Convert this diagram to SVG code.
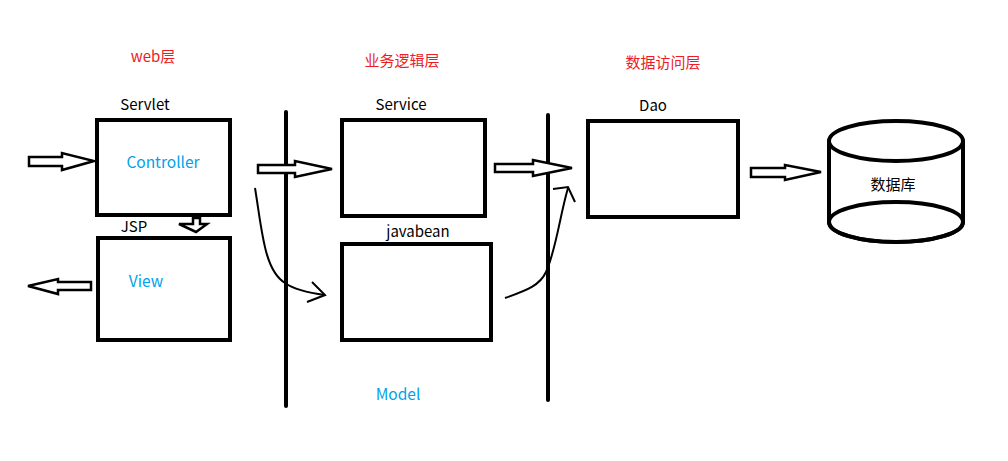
<svg xmlns="http://www.w3.org/2000/svg" width="1008" height="461" viewBox="0 0 1008 461">
<style>
.box{fill:none;stroke:#000;stroke-width:4}
.hollow{fill:#fff;stroke:#000;stroke-width:2.5;stroke-linejoin:miter}
.line{fill:none;stroke:#000;stroke-width:2}
.sep{stroke:#000;stroke-width:4;stroke-linecap:round}
text{font-family:"Microsoft YaHei","Noto Sans CJK SC","Noto Sans",sans-serif;font-size:15px}
.red{fill:#ed1c24;font-size:15px}
.blue{fill:#00a2e8;font-size:15.5px}
.blk{fill:#000}
</style>
<rect width="1008" height="461" fill="#fff"/>
<g id="labels">
<text class="red" x="153" y="62" text-anchor="middle">web层</text>
<text class="red" x="402" y="66" text-anchor="middle">业务逻辑层</text>
<text class="red" x="663" y="68" text-anchor="middle">数据访问层</text>
<text class="blue" x="398" y="400" text-anchor="middle">Model</text>
</g>
<g id="controller">
<rect class="box" x="97" y="120" width="133" height="95"/>
<text class="blk" x="145" y="110" text-anchor="middle">Servlet</text>
<text class="blue" x="163" y="168" text-anchor="middle">Controller</text>
</g>
<g id="view">
<rect class="box" x="98" y="238" width="132" height="102"/>
<text class="blk" x="134" y="232" text-anchor="middle">JSP</text>
<text class="blue" x="146" y="287" text-anchor="middle">View</text>
</g>
<g id="service">
<rect class="box" x="342" y="120" width="143" height="96"/>
<text class="blk" x="401" y="110" text-anchor="middle">Service</text>
</g>
<g id="javabean">
<rect class="box" x="342" y="244" width="149" height="96"/>
<text class="blk" x="418" y="237" text-anchor="middle">javabean</text>
</g>
<g id="dao">
<rect class="box" x="588" y="121" width="150" height="96"/>
<text class="blk" x="653" y="111" text-anchor="middle">Dao</text>
</g>
<g id="database">
<path d="M829,141 V222 A67,20 0 0 0 963,222 V141" fill="#fff" stroke="#000" stroke-width="4"/>
<ellipse cx="896" cy="222" rx="67" ry="20" fill="none" stroke="#000" stroke-width="4"/>
<ellipse cx="896" cy="141" rx="67" ry="20" fill="#fff" stroke="#000" stroke-width="4"/>
<text class="blk" x="893" y="190" text-anchor="middle">数据库</text>
</g>
<g id="connectors">
<line class="sep" x1="286" y1="112" x2="286" y2="406"/>
<line class="sep" x1="548" y1="115" x2="548" y2="400"/>
<polygon class="hollow" points="29,157 62,157 62,153 94,161 62,170 62,166 29,166"/>
<polygon class="hollow" points="91,282 58,282 58,279 28,286 58,294 58,290 91,290"/>
<polygon class="hollow" points="193,218 200,218 200,224 207,224 196,232 179,224 193,224"/>
<polygon class="hollow" points="258,165 295,165 295,161 332,169 295,177 295,173 258,173"/>
<polygon class="hollow" points="495,164 533,164 533,160 572,168 533,176 533,172 495,172"/>
<polygon class="hollow" points="751,168 785,168 785,165 821,172 785,180 785,177 751,177"/>
<path class="line" d="M255,188 C262,230 264,270 285,283 C295,290 310,293 325,295"/>
<path class="line" d="M312,282 L325,295 L307,302"/>
<path class="line" d="M505,298 C528,290 540,285 546,272 C556,250 560,215 568,188"/>
<path class="line" d="M553,189 L568,187 L575,202"/>
</g>
</svg>
